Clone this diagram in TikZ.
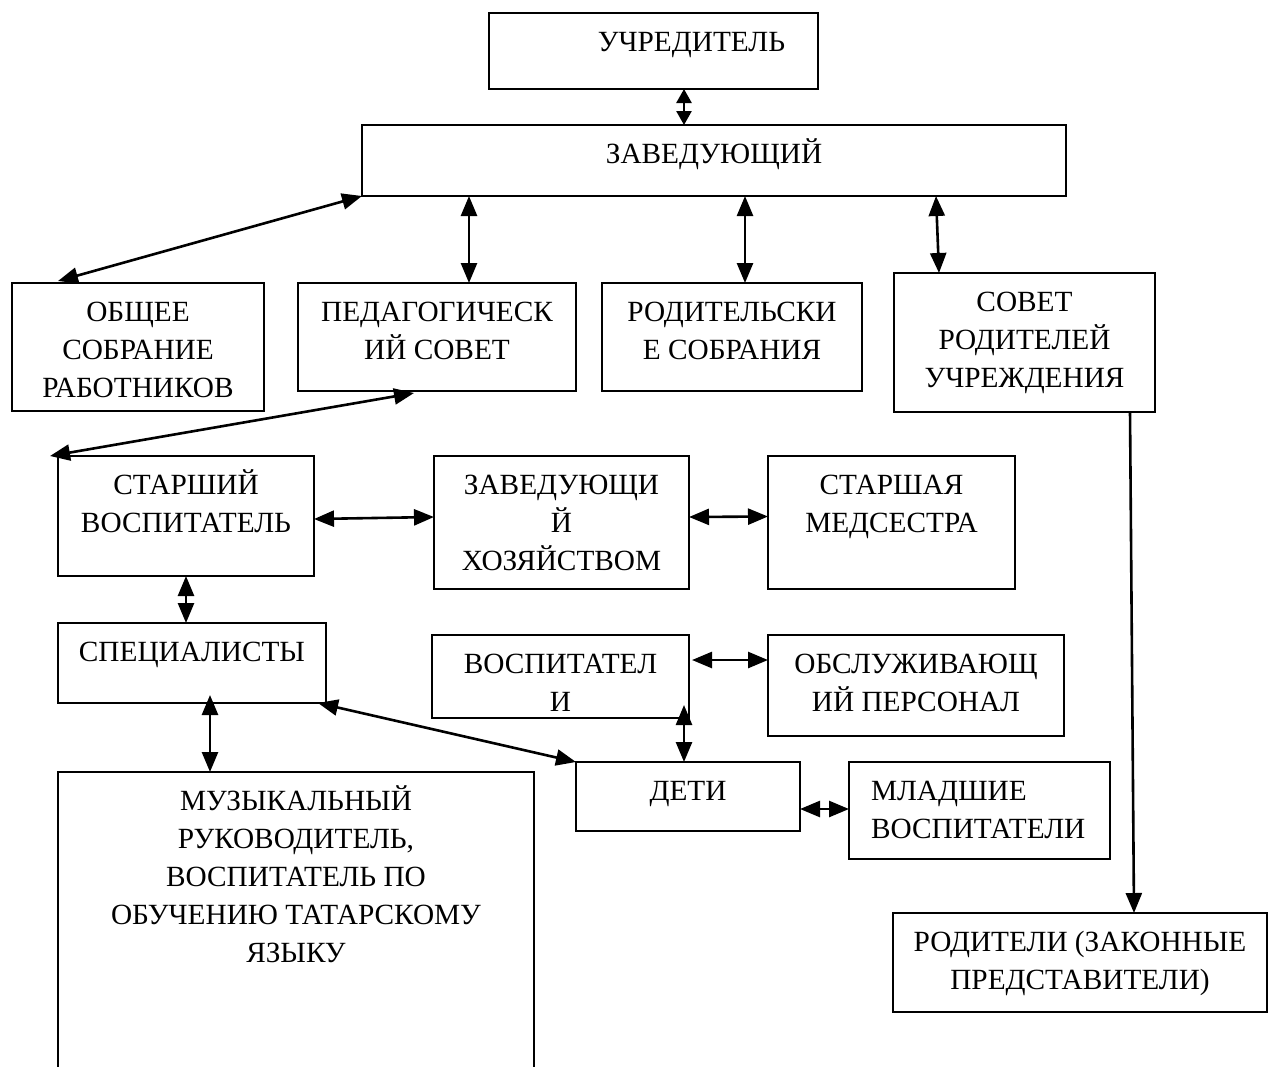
\documentclass[tikz,border=0pt]{standalone}
\usepackage{fontspec}
\setmainfont{Liberation Serif}
\usetikzlibrary{arrows.meta,calc}
\newcommand\bt[3]{\parbox[c][#2pt][t]{#1pt}{\centering\rule{0pt}{38.5pt}#3}}
\newcommand\btl[3]{\parbox[c][#2pt][t]{#1pt}{\raggedright\leftskip=22pt\rule{0pt}{38.5pt}#3}}
\tikzset{
  box/.style={draw, line width=1.6pt, inner sep=0pt, outer sep=0pt, rectangle,
    font=\fontsize{29.3}{38}\selectfont},
  con/.style={line width=2.6pt, {Triangle[length=20pt,width=16pt]}-{Triangle[length=20pt,width=16pt]}},
  consmall/.style={line width=2.6pt, {Triangle[length=14pt,width=15pt]}-{Triangle[length=14pt,width=15pt]}},
  conone/.style={line width=2.6pt, -{Triangle[length=20pt,width=16pt]}}
}
\begin{document}
\begin{tikzpicture}[x=1pt,y=-1pt]
\fill[white] (0,0) rectangle (1268,1066);
\useasboundingbox (0,0) rectangle (1268,1066);

\node[box] (uch)  at (653.5,51)   {\bt{329}{76}{\hspace*{76pt}УЧРЕДИТЕЛЬ}};
\node[box] (zav)  at (714,160.5)  {\bt{704}{71}{ЗАВЕДУЮЩИЙ}};
\node[box] (obsh) at (138,347)    {\bt{252}{128}{ОБЩЕЕ\\СОБРАНИЕ\\РАБОТНИКОВ}};
\node[box] (ped)  at (437,337)    {\bt{278}{108}{ПЕДАГОГИЧЕСК\\ИЙ СОВЕТ}};
\node[box] (rod)  at (732,337)    {\bt{260}{108}{РОДИТЕЛЬСКИ\\Е СОБРАНИЯ}};
\node[box] (sov)  at (1024.5,342.5) {\bt{261}{139}{СОВЕТ\\РОДИТЕЛЕЙ\\УЧРЕЖДЕНИЯ}};
\node[box] (star) at (186,516)    {\bt{256}{120}{СТАРШИЙ\\ВОСПИТАТЕЛЬ}};
\node[box] (zavh) at (561.5,522.5) {\bt{255}{133}{ЗАВЕДУЮЩИ\\Й\\ХОЗЯЙСТВОМ}};
\node[box] (med)  at (891.5,522.5) {\bt{247}{133}{СТАРШАЯ\\МЕДСЕСТРА}};
\node[box] (spec) at (192,663)    {\bt{268}{80}{СПЕЦИАЛИСТЫ}};
\node[box] (vosp) at (560.5,676.5) {\bt{257}{83}{ВОСПИТАТЕЛ\\И}};
\node[box] (obsl) at (916,685.5)  {\bt{296}{101}{ОБСЛУЖИВАЮЩ\\ИЙ ПЕРСОНАЛ}};
\node[box] (deti) at (688,796.5)  {\bt{224}{69}{ДЕТИ}};
\node[box] (mlad) at (979.5,810.5) {\btl{261}{97}{МЛАДШИЕ\\ВОСПИТАТЕЛИ}};
\node[box] (muz)  at (296,936)    {\bt{476}{328}{МУЗЫКАЛЬНЫЙ\\РУКОВОДИТЕЛЬ,\\ВОСПИТАТЕЛЬ ПО\\ОБУЧЕНИЮ ТАТАРСКОМУ\\ЯЗЫКУ}};
\node[box] (rodit) at (1080,962.5) {\bt{374}{99}{\rule{0pt}{2pt}РОДИТЕЛИ (ЗАКОННЫЕ\\ПРЕДСТАВИТЕЛИ)}};

\draw[consmall] ($(uch.south)+(30.5,0)$) -- ($(zav.north)+(-30,0)$);
\draw[con] (zav.south west) -- ($(obsh.north west)+(46,-2)$);
\draw[con] ($(zav.south)+(-245,0)$) -- ($(ped.north)+(32,0)$);
\draw[con] ($(zav.south)+(31,0)$) -- ($(rod.north)+(13,0)$);
\draw[con] ($(zav.south)+(222,0)$) -- ($(sov.north)+(-85.5,0)$);
\draw[con] ($(ped.south)+(-23,2)$) -- ($(star.north west)+(-8,0)$);
\draw[con] ($(star.east)+(0,3)$) -- ($(zavh.west)+(0,-5.5)$);
\draw[con] ($(zavh.east)+(0,-5.5)$) -- ($(med.west)+(0,-6)$);
\draw[con] (star.south) -- ($(spec.north)+(-6,0)$);
\draw[con] ($(spec.south east)+(-8,0)$) -- (deti.north west);
\draw[con] ($(spec.south)+(18,-8)$) -- ($(muz.north)+(-86,0)$);
\draw[con] ($(vosp.east)+(3,-16.5)$) -- ($(obsl.west)+(0,-25.5)$);
\draw[con] ($(vosp.south)+(123.5,-13)$) -- ($(deti.north)+(-4,0)$);
\draw[con] ($(deti.east)+(0,12.5)$) -- ($(mlad.west)+(0,-1.5)$);
\draw[conone] ($(sov.south)+(105.5,0)$) -- ($(rodit.north)+(54,0)$);
\end{tikzpicture}
\end{document}
